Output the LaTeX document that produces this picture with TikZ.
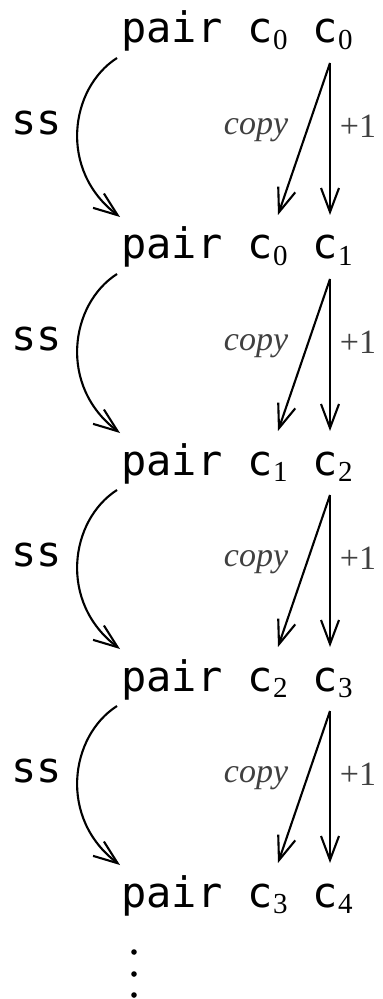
\documentclass[tikz,border=0pt]{standalone}
\usepackage{fontspec}
\setmainfont{Liberation Serif}
\setmonofont{DejaVu Sans Mono}
\usetikzlibrary{arrows.meta,calc}
\newcommand{\sbx}[1]{\raisebox{-3.2pt}{\rmfamily\fontsize{14.5}{14.5}\selectfont #1}}
\tikzset{
  rowtext/.style={anchor=base west,inner sep=0pt,font=\ttfamily\fontsize{21}{21}\selectfont},
  sslabel/.style={inner sep=0pt,font=\ttfamily\fontsize{21}{21}\selectfont},
  arrlabel/.style={inner sep=0pt,text=black!75,font=\fontsize{17}{17}\selectfont},
  arr/.style={line width=1.05pt,-{Straight Barb[length=12pt,width=9pt,line width=1.05pt]}}
}
\begin{document}
\begin{tikzpicture}[x=0.5pt,y=-0.5pt]
\useasboundingbox (0,0) rectangle (382,999);
\node[rowtext] (r0) at (121,43)  {pair c\sbx{0} c\sbx{0}};
\node[rowtext] (r1) at (121,259) {pair c\sbx{0} c\sbx{1}};
\node[rowtext] (r2) at (121,475) {pair c\sbx{1} c\sbx{2}};
\node[rowtext] (r3) at (121,691) {pair c\sbx{2} c\sbx{3}};
\node[rowtext] (r4) at (121,907) {pair c\sbx{3} c\sbx{4}};
\foreach \i/\j in {0/1,1/2,2/3,3/4}{
  \coordinate (s\i) at ($(r\i.base west)+(-4,15)$);
  \coordinate (e\i) at ($(r\j.base west)+(-1,-42)$);
  \coordinate (t\i) at ($(r\i.base west)+(209,20)$);
  \coordinate (c\i) at ($(r\j.base west)+(157,-44)$);
  \coordinate (p\i) at ($(r\j.base west)+(209,-44)$);
  \draw[arr] (s\i) .. controls ($(s\i)+(-47,30)$) and ($(e\i)+(-62,-47)$) .. (e\i);
  \draw[arr] (t\i) -- (c\i);
  \draw[arr] (t\i) -- (p\i);
  \node[sslabel] (ss\i) at ($(r\i.base west)+(-84,80)$) {ss};
  \node[arrlabel] (cp\i) at ($(r\i.base west)+(135,87)$) {\itshape copy};
  \node[arrlabel] (pl\i) at ($(r\i.base west)+(237,83)$) {+1};
}
\node[inner sep=0pt] (dots) at (134,974) {};
\foreach \y in {952,974,995}{\fill (134,\y) circle[radius=1.4pt];}
\end{tikzpicture}
\end{document}
